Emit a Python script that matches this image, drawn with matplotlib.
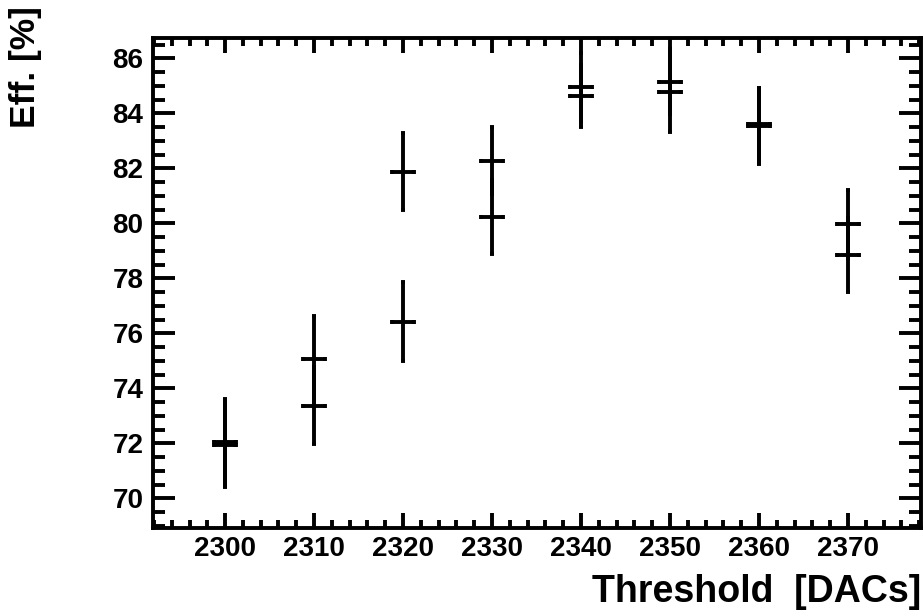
import numpy as np
import matplotlib.pyplot as plt
from matplotlib.ticker import MultipleLocator

# Threshold scan: efficiency vs. threshold for two runs
threshold = [2300, 2310, 2320, 2330, 2340, 2350, 2360, 2370]
eff_a = [72.05, 75.06, 81.88, 82.28, 84.95, 85.15, 83.60, 79.97]
err_a = [1.55, 1.57, 1.40, 1.23, 1.25, 1.18, 1.33, 1.24]
eff_b = [71.95, 73.37, 76.42, 80.22, 84.63, 84.79, 83.55, 78.85]
err_b = [1.55, 1.39, 1.44, 1.35, 1.12, 1.46, 1.38, 1.34]
x_halfwidth = 1.25

plt.rcParams['font.family'] = ['Liberation Sans', 'DejaVu Sans']
plt.rcParams['font.weight'] = 'bold'

fig = plt.figure(figsize=(9.24, 6.12), dpi=100)
ax = fig.add_axes([0.1656, 0.1373, 0.8312, 0.8006])

for eff, err in [(eff_a, err_a), (eff_b, err_b)]:
    ax.errorbar(threshold, eff, yerr=err, xerr=x_halfwidth, fmt='none',
                ecolor='black', elinewidth=2.8, capsize=1.5, capthick=2.8)

ax.set_xlim(2291.9, 2378.2)
ax.set_ylim(68.92, 86.74)

ax.xaxis.set_major_locator(MultipleLocator(10))
ax.xaxis.set_minor_locator(MultipleLocator(2))
ax.yaxis.set_major_locator(MultipleLocator(2))
ax.yaxis.set_minor_locator(MultipleLocator(0.5))

ax.tick_params(axis='both', which='both', direction='in', top=True, right=True,
               width=2.8, labelsize=20)
ax.tick_params(axis='x', which='major', length=11, pad=6)
ax.tick_params(axis='x', which='minor', length=6)
ax.tick_params(axis='y', which='major', length=16, pad=7)
ax.tick_params(axis='y', which='minor', length=8.5)
ax.tick_params(axis='x', which='both', labeltop=False)
ax.tick_params(axis='y', which='both', labelright=False)
for lbl in ax.get_xticklabels() + ax.get_yticklabels():
    lbl.set_fontweight('bold')

for side in ax.spines.values():
    side.set_linewidth(2.8)

fig.text(0.9968, 1 - 592 / 612, 'Threshold  [DACs]', ha='right', va='center',
         fontsize=27, fontweight='bold')
fig.text(26 / 924, 1 - 6 / 612, 'Eff. [%]', rotation=90, ha='center', va='top',
         fontsize=25.5, fontweight='bold')

fig.savefig('out.png', dpi=100, facecolor='white')
